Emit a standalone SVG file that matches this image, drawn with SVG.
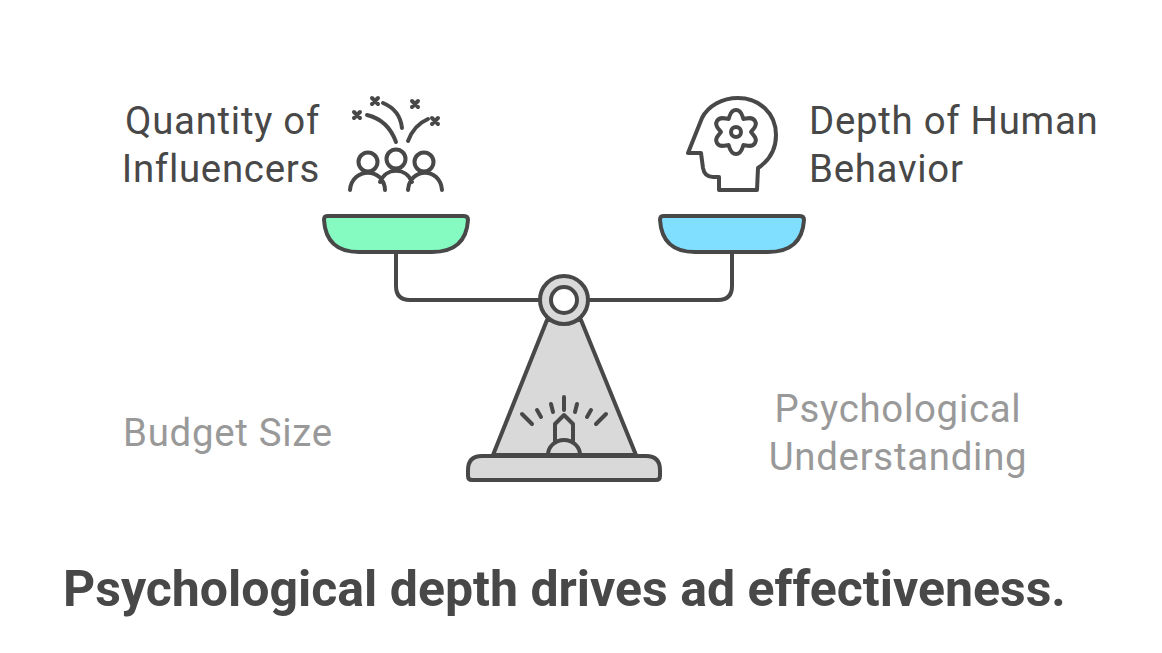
<svg xmlns="http://www.w3.org/2000/svg" width="1162" height="653" viewBox="0 0 1162 653">
<style>
.s{fill:none;stroke:#484848;stroke-width:4;stroke-linecap:round;stroke-linejoin:round}
.g{fill:#d9d9d9}
.t{font-family:Roboto,"Liberation Sans",sans-serif;font-size:38.400px;letter-spacing:0.720px;fill:#484848}
.m{fill:#999999}
.e{text-anchor:end}
</style>
<rect width="1162" height="653" fill="#ffffff"/>
<g id="connectors">
<path class="s" d="M396 252V286Q396 300 410 300H540"/>
<path class="s" d="M732 252V286Q732 300 718 300H588"/>
</g>
<g id="pan-left">
<path class="s" style="fill:#85fbc2" d="M327 216H464Q468 216 468 220Q466 252 432 252H359Q326 252 324 220Q324 216 327 216Z"/>
</g>
<g id="pan-right">
<path class="s" style="fill:#80dfff" d="M663 216H800Q804 216 804 220Q802 252 768 252H695Q662 252 660 220Q660 216 663 216Z"/>
</g>
<g id="fulcrum">
<path class="s g" d="M547 320L493 455H636L581 320Z"/>
<circle class="s g" cx="564" cy="300" r="24"/>
<circle class="s" style="fill:#fff" cx="564" cy="300" r="13"/>
<path class="s" d="M548 455A16 15 0 0 1 580 455"/>
<path class="s" d="M555 441V424L564 415L573 424V441"/>
<path class="s" d="M564 397V410M551 404L553 412M537 410L541 417M522 414L532 424M577 404L575 412M591 410L587 417M606 414L596 424"/>
<path class="s g" d="M482 456H646Q660 456 660 470V476Q660 480 656 480H472Q468 480 468 476V470Q468 456 482 456Z"/>
</g>
<g id="icon-people">
<circle class="s" cx="368" cy="162" r="9.500"/>
<circle class="s" cx="396" cy="159" r="9.500"/>
<circle class="s" cx="424" cy="162" r="9.500"/>
<path class="s" d="M350 190C352 167 384 167 385 190M380 182C386 167 406 167 412 182M408 190C410 167 440 167 442 190"/>
<path class="s" d="M367 115Q388 120 396 142M383 103Q400 110 402 128M408 141Q414 125 428 119"/>
<path class="s" d="M354 112L360 118M360 112L354 118M372 98L378 104M378 98L372 104M412 101L418 107M418 101L412 107M432 118L438 124M438 118L432 124"/>
</g>
<g id="icon-head">
<path class="s" d="M719 190H757L758 168C770 160 776 148 776 135C776 113 759 98 738 98C722 98 708 106 702 118L688 153H701L703 168C704 174 708 177 713 177H719Z"/>
<path class="s" transform="translate(736 132)" d="M-7.500 -13C-6 -16 -6 -22 0 -22C6 -22 6 -16 7.500 -13C10.860 -13.200 16.050 -16.200 19.050 -11C22.050 -5.800 16.860 -2.800 15.010 0C16.860 2.800 22.050 5.800 19.050 11C16.050 16.200 10.860 13.200 7.500 13C6 16 6 22 0 22C-6 22 -6 16 -7.500 13C-10.860 13.200 -16.050 16.200 -19.050 11C-22.050 5.800 -16.860 2.800 -15.010 0C-16.860 -2.800 -22.050 -5.800 -19.050 -11C-16.050 -16.200 -10.860 -13.200 -7.500 -13Z"/>
<circle class="s" cx="736" cy="132" r="5"/>
</g>
<g id="label-quantity"><text class="t e" x="320" y="134">Quantity of</text><text class="t e" x="320" y="182">Influencers</text></g>
<g id="label-depth"><text class="t" x="809" y="134">Depth of Human</text><text class="t" x="809" y="182">Behavior</text></g>
<g id="label-budget"><text class="t m" x="123" y="446">Budget Size</text></g>
<g id="label-psych"><text class="t m" text-anchor="middle" x="898" y="422">Psychological</text><text class="t m" text-anchor="middle" x="898" y="470">Understanding</text></g>
<g id="title"><text x="63" y="606" style="font-family:Roboto,'Liberation Sans',sans-serif;font-size:50px;font-weight:700;fill:#484848">Psychological depth drives ad effectiveness.</text></g>
</svg>
